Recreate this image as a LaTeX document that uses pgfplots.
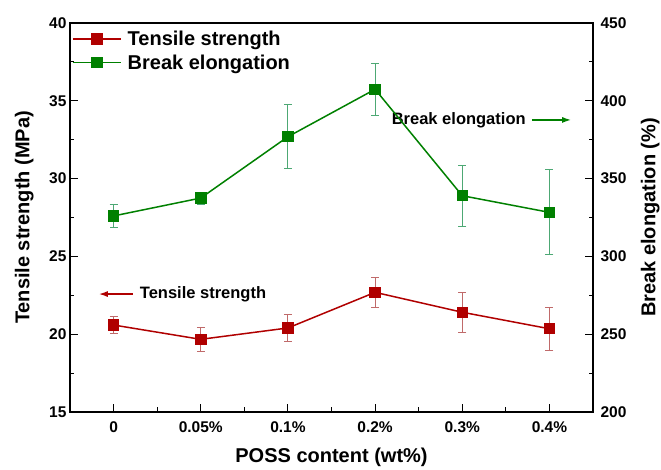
\documentclass[border=0pt]{standalone}
\usepackage{pgfplots}
\pgfplotsset{compat=1.18}
\usepackage{fontspec}
\setmainfont{Liberation Sans}
\usetikzlibrary{arrows.meta}
\definecolor{tsred}{HTML}{B00000}
\definecolor{begreen}{HTML}{008000}
\definecolor{tserr}{HTML}{C06A6A}
\definecolor{beerr}{HTML}{4DA874}

\begin{document}
\begin{tikzpicture}
\pgfplotsset{
  common/.style={
    width=523pt, height=389pt, scale only axis,
    xmin=-0.5, xmax=5.5,
    xtick={0,...,5},
    xticklabels={0,0.05\%,0.1\%,0.2\%,0.3\%,0.4\%},
    minor xtick={0.5,1.5,2.5,3.5,4.5},
    axis line style={line width=1.3pt},
    major tick length=8pt, minor tick length=4.5pt,
    every tick/.style={line width=1.1pt, black},
    tick align=inside,
    ticklabel style={font=\fontsize{15.5}{18}\selectfont\bfseries},
    xticklabel style={yshift=-6pt},
    /pgf/number format/assume math mode=true,
    label style={font=\fontsize{20}{24}\selectfont\bfseries, inner sep=1pt},
  },
  dataline/.style={line width=1.5pt, mark=square*, mark size=5pt,
    mark options={solid},
    error bars/y dir=both, error bars/y explicit,
    error bars/error bar style={line width=0.9pt, color=#1},
    error bars/error mark options={rotate=90, mark size=4pt, line width=0.9pt, color=#1}},
  legend image code/.code={%
    \draw[mark repeat=2, mark phase=2, #1] plot coordinates {(0pt,0pt) (24pt,0pt) (48pt,0pt)};},
}

% left axis: tensile strength
\begin{axis}[common, name=main,
  ymin=15, ymax=40, ytick={15,20,...,40}, minor ytick={17.5,22.5,...,37.5},
  xtick pos=bottom, ytick pos=left,
  xlabel={POSS content (wt\%)},
  ylabel={Tensile strength (MPa)},
  xlabel style={yshift=-11pt, overlay},
  ylabel style={overlay},
  ylabel shift=11pt,
  legend style={at={(axis description cs:0,1)}, anchor=north west,
    xshift=-1pt, yshift=-4pt, draw=none, fill=none,
    font=\fontsize{20}{24}\selectfont\bfseries,
    row sep=3.5pt, legend cell align=left,
    /tikz/every odd column/.append style={column sep=4pt}},
]
\addplot[tsred, dataline=tserr] coordinates {
  (0,20.59) +- (0,0.55)
  (1,19.67) +- (0,0.78)
  (2,20.40) +- (0,0.87)
  (3,22.69) +- (0,0.95)
  (4,21.41) +- (0,1.29)
  (5,20.35) +- (0,1.38)
};
\addlegendentry{Tensile strength}
\addlegendimage{begreen, line width=1.5pt, mark=square*, mark size=5pt}
\addlegendentry{Break elongation}

% pointers to each series' axis
\draw[-{Latex[length=9pt,width=6pt]}, tsred, line width=1.5pt]
  (axis cs:0.22,22.58) -- (axis cs:-0.17,22.58);
\node[anchor=west, inner sep=0pt, font=\fontsize{16.5}{19}\selectfont\bfseries]
  at (axis cs:0.30,22.58) {Tensile strength};
\draw[-{Latex[length=9pt,width=6pt]}, begreen, line width=1.5pt]
  (axis cs:4.80,33.77) -- (axis cs:5.25,33.77);
\node[anchor=east, inner sep=0pt, font=\fontsize{16.5}{19}\selectfont\bfseries]
  at (axis cs:4.73,33.77) {Break elongation};
\end{axis}

% right axis: break elongation
\begin{axis}[common,
  ymin=200, ymax=450, ytick={200,250,...,450}, minor ytick={225,275,...,425},
  axis x line=none, axis y line*=right,
  yticklabel style={xshift=4pt},
  ylabel={Break elongation (\%)},
  ylabel style={overlay},
  ylabel shift=10pt,
]
\addplot[begreen, dataline=beerr] coordinates {
  (0,326.0) +- (0,7.5)
  (1,337.5) +- (0,3.8)
  (2,376.9) +- (0,20.5)
  (3,407.4) +- (0,16.6)
  (4,339.0) +- (0,19.7)
  (5,328.3) +- (0,27.3)
};
\end{axis}

\path ([shift={(-70pt,-58pt)}]main.south west) rectangle ([shift={(68pt,23pt)}]main.north east);
\end{tikzpicture}
\end{document}
